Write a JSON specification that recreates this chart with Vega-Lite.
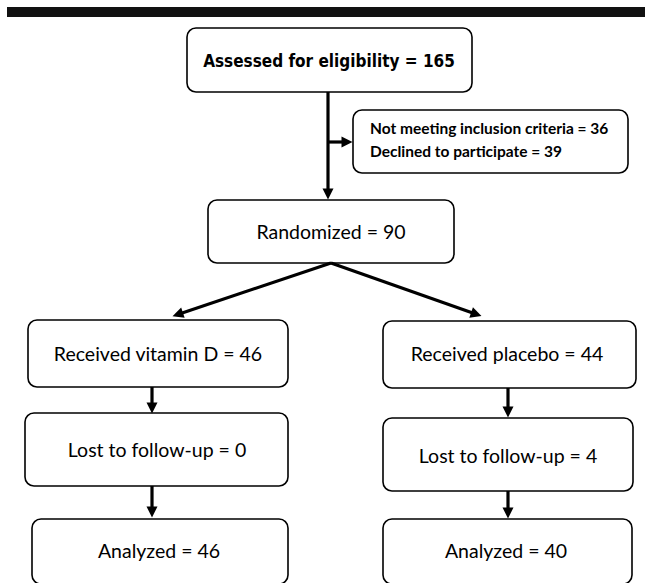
{
  "$schema": "https://vega.github.io/schema/vega-lite/v6.json",
  "width": 645,
  "height": 583,
  "padding": 0,
  "autosize": {"type": "fit", "contains": "padding"},
  "background": "white",
  "config": {"view": {"stroke": null}},
  "datasets": {
    "bar": [{"x": 7, "x2": 645, "y": 7, "y2": 17}],
    "boxes": [
      {"id": "assessed", "x": 187, "x2": 472, "y": 28, "y2": 92},
      {"id": "excluded", "x": 353, "x2": 628, "y": 110, "y2": 173},
      {"id": "randomized", "x": 208, "x2": 454, "y": 200, "y2": 263},
      {"id": "vitd", "x": 28, "x2": 288, "y": 320, "y2": 387},
      {"id": "placebo", "x": 383, "x2": 636, "y": 321, "y2": 388},
      {"id": "lost_vitd", "x": 25, "x2": 288, "y": 413, "y2": 486},
      {"id": "lost_placebo", "x": 383, "x2": 633, "y": 418, "y2": 491},
      {"id": "analyzed_vitd", "x": 32, "x2": 288, "y": 519, "y2": 584},
      {"id": "analyzed_placebo", "x": 383, "x2": 632, "y": 519, "y2": 584}
    ],
    "lines": [
      {"x": 328, "y": 92, "x2": 328, "y2": 194},
      {"x": 328, "y": 142, "x2": 347, "y2": 142},
      {"x": 331, "y": 263, "x2": 177.7, "y2": 314.4},
      {"x": 331, "y": 263, "x2": 476.3, "y2": 314.3},
      {"x": 152, "y": 387, "x2": 152, "y2": 408},
      {"x": 508, "y": 388, "x2": 508, "y2": 412},
      {"x": 152, "y": 486, "x2": 152, "y2": 512},
      {"x": 508, "y": 491, "x2": 508, "y2": 513}
    ],
    "heads": [
      {"x": 328, "y": 194, "angle": 0},
      {"x": 347, "y": 142, "angle": 270},
      {"x": 177.7, "y": 314.4, "angle": 71.5},
      {"x": 476.3, "y": 314.3, "angle": 289.4},
      {"x": 152, "y": 408, "angle": 0},
      {"x": 508, "y": 412, "angle": 0},
      {"x": 152, "y": 512, "angle": 0},
      {"x": 508, "y": 513, "angle": 0}
    ],
    "title": [{"x": 329, "y": 62, "label": "Assessed for  eligibility = 165"}],
    "side": [
      {"x": 370, "y": 129, "label": "Not meeting inclusion criteria = 36"},
      {"x": 370, "y": 152, "label": "Declined to participate = 39"}
    ],
    "labels": [
      {"x": 331, "y": 233, "label": "Randomized = 90"},
      {"x": 158, "y": 355, "label": "Received vitamin D = 46"},
      {"x": 507, "y": 355, "label": "Received placebo = 44"},
      {"x": 157, "y": 451, "label": "Lost to follow-up = 0"},
      {"x": 508, "y": 457, "label": "Lost to follow-up = 4"},
      {"x": 159, "y": 552, "label": "Analyzed = 46"},
      {"x": 506, "y": 552, "label": "Analyzed = 40"}
    ]
  },
  "encoding": {
    "x": {"field": "x", "type": "quantitative", "scale": {"domain": [0, 645], "nice": false, "zero": false}, "axis": null},
    "y": {"field": "y", "type": "quantitative", "scale": {"domain": [0, 583], "nice": false, "zero": false, "reverse": true}, "axis": null}
  },
  "layer": [
    {
      "data": {"name": "bar"},
      "mark": {"type": "rect", "fill": "#111111", "clip": true},
      "encoding": {"x2": {"field": "x2"}, "y2": {"field": "y2"}}
    },
    {
      "data": {"name": "boxes"},
      "mark": {"type": "rect", "fill": "white", "stroke": "black", "strokeWidth": 1.6, "cornerRadius": 9, "clip": true},
      "encoding": {"x2": {"field": "x2"}, "y2": {"field": "y2"}}
    },
    {
      "data": {"name": "lines"},
      "mark": {"type": "rule", "stroke": "black", "strokeWidth": 3.2},
      "encoding": {"x2": {"field": "x2"}, "y2": {"field": "y2"}}
    },
    {
      "data": {"name": "heads"},
      "mark": {"type": "point", "shape": "M-1,-1L1,-1L0,1Z", "filled": true, "color": "black", "opacity": 1, "size": 120, "strokeWidth": 0},
      "encoding": {"angle": {"field": "angle", "type": "quantitative", "scale": null}}
    },
    {
      "data": {"name": "title"},
      "mark": {"type": "text", "font": "DejaVu Sans Condensed, Roboto, sans-serif", "fontWeight": "bold", "fontSize": 17, "align": "center", "baseline": "middle", "color": "black"},
      "encoding": {"text": {"field": "label"}}
    },
    {
      "data": {"name": "side"},
      "mark": {"type": "text", "font": "Lato", "fontWeight": "bold", "fontSize": 15.5, "align": "left", "baseline": "middle", "color": "black"},
      "encoding": {"text": {"field": "label"}}
    },
    {
      "data": {"name": "labels"},
      "mark": {"type": "text", "font": "Lato", "fontSize": 19.5, "align": "center", "baseline": "middle", "color": "black"},
      "encoding": {"text": {"field": "label"}}
    }
  ]
}
